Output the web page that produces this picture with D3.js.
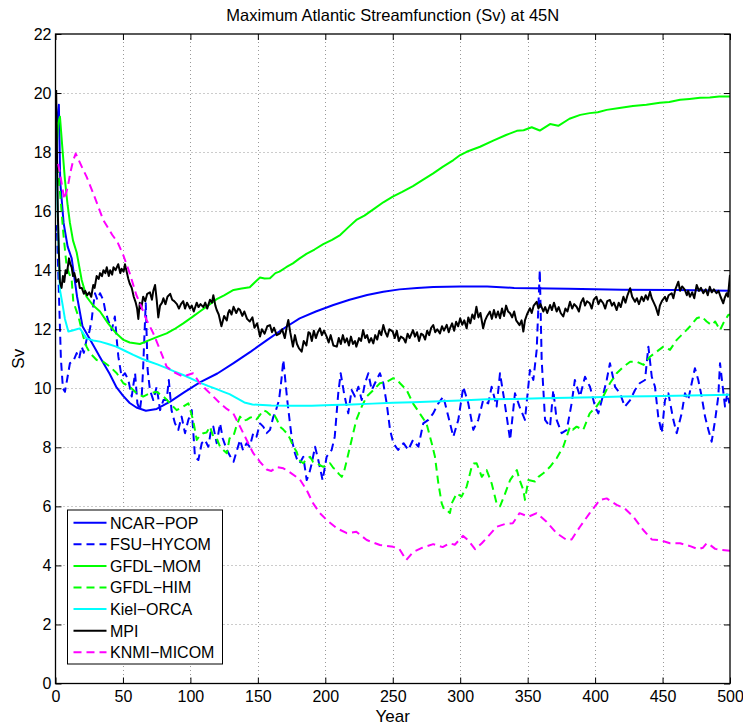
<!DOCTYPE html>
<html>
<head>
<meta charset="utf-8">
<script src="https://cdn.jsdelivr.net/npm/d3@7"></script>
<style>
  html, body { margin: 0; padding: 0; background: #fff; }
  svg { display: block; }
  text { font-family: "Liberation Sans", Arial, Helvetica, sans-serif; fill: #000; }
</style>
</head>
<body>
<svg id="chart" width="743" height="726"></svg>
<script>
// Maximum Atlantic overturning streamfunction at 45N, per ocean model, [year, Sv]
const ncarPop = [[1,19.0],[2.5,19.6],[3.5,17.0],[6,15.6],[9,14.8],[12,14.4],[16,13.1],[20,12.1],[25,11.7],[33,11.05],[40,10.5],[45,10.05],[50,9.75],[55,9.5],[60,9.35],[67,9.24],[75,9.3],[85,9.55],[95,9.85],[107,10.2],[120,10.5],[132,10.85],[145,11.25],[157,11.64],[170,12.05],[181,12.37],[193,12.6],[206,12.82],[218,13.0],[231,13.16],[243,13.27],[255,13.35],[268,13.4],[280,13.43],[300,13.45],[320,13.45],[340,13.4],[380,13.37],[420,13.34],[460,13.33],[500,13.3]];

const fsuHycom = [[0,15.3],[1,15.5],[2,14.0],[3,12.5],[4,11.0],[5.5,10.0],[7,9.88],[9,10.4],[10.7,10.85],[13,10.9],[15.7,11.19],[17.5,11.0],[19.4,11.41],[21,11.2],[23,11.64],[25,11.9],[26.8,12.31],[28,12.8],[29.3,13.22],[31,13.0],[33,13.22],[35.4,12.99],[37,12.6],[39,12.31],[41.7,11.97],[44,12.43],[45.5,11.6],[46.6,11.07],[49,10.39],[51.5,10.51],[54,10.28],[56.5,9.72],[59,10.51],[60.7,9.49],[62.6,9.26],[64,9.8],[65,10.73],[66.9,12.88],[68.3,10.62],[70,9.94],[72.5,9.6],[75,10.05],[77.5,9.26],[80,9.6],[82.4,9.6],[84,10.28],[86,9.26],[88.6,8.81],[91,8.59],[93.5,9.04],[96,8.48],[98.5,8.93],[101,9.26],[103.4,7.68],[105.9,7.57],[108.4,8.14],[110.8,8.25],[113.3,8.02],[115,8.5],[117,8.7],[119.5,8.14],[122,8.81],[124,8.3],[127,7.91],[129.5,7.7],[132,7.51],[134.5,7.9],[136.8,8.25],[139,7.9],[141.7,8.14],[144,8.02],[146.6,8.48],[149,8.36],[151.6,8.81],[154,8.7],[156.5,8.48],[159,8.59],[161.5,9.04],[162.7,9.15],[165.7,9.6],[167.5,10.3],[168.9,10.96],[170.5,10.2],[171.8,9.6],[173.8,8.81],[175.5,8.2],[177.5,7.8],[179,7.6],[181,7.46],[183.7,7.68],[186.2,6.89],[188,7.1],[190,7.46],[192.4,8.02],[194.8,7.57],[198,6.89],[201,7.68],[204.7,7.91],[207,8.36],[209.6,9.83],[211.4,10.51],[213.9,9.83],[217,9.15],[219.5,9.94],[222,9.72],[224.5,10.05],[227,9.6],[229.4,10.17],[231.9,10.51],[234.4,9.94],[236.8,10.17],[240.5,10.51],[243,10.17],[245.5,9.49],[248,8.59],[250.4,8.14],[254,7.91],[258,8.14],[261.5,7.91],[265,8.25],[269,8.02],[272.6,8.81],[276.4,8.93],[280,9.15],[283.8,9.49],[287.5,9.72],[291.2,9.04],[294.9,8.36],[298.6,8.93],[302.3,10.05],[306,9.49],[309.7,8.59],[313.4,8.93],[317,9.6],[320.8,9.49],[323.3,10.05],[327,9.38],[329.5,10.51],[333,9.5],[337,8.25],[340.6,9.83],[344,9.38],[348,8.93],[351.7,10.62],[354.2,10.28],[356.7,11.3],[359,14.0],[360.4,10.96],[362.9,8.93],[366.6,8.7],[369,9.94],[371.5,8.93],[375.2,8.48],[379,8.59],[382.6,9.49],[385,10.28],[388.8,9.72],[392.5,10.39],[396.2,10.05],[400,9.38],[402.4,9.15],[405,9.6],[408.6,10.28],[411,10.85],[414.8,10.05],[418.5,9.83],[422,9.38],[426,9.6],[429.6,9.94],[433,10.17],[437,10.28],[439.5,11.41],[442,10.39],[444.4,10.05],[446.8,9.04],[449.4,8.48],[451.8,9.6],[454.3,9.83],[458,8.93],[460.5,8.48],[464.2,9.15],[466.6,9.83],[469,9.6],[471.6,10.17],[474,10.68],[476.5,10.28],[479,9.72],[481.5,9.04],[484,8.59],[486.4,8.19],[489,8.93],[491.3,9.72],[492.6,10.85],[494.6,10.05],[496.3,9.38],[498,9.83],[499.5,9.49]];

const gfdlMom = [[0,17.0],[1,18.3],[2,19.0],[3.3,19.2],[5,18.2],[7,17.06],[9,16.2],[10.7,15.6],[13,15.0],[15.7,14.6],[19.4,13.67],[23,13.1],[28,12.8],[33,12.6],[39,12.2],[45,11.86],[50,11.65],[55,11.55],[62.6,11.5],[70,11.64],[76,11.75],[82.4,11.86],[88,12.0],[94.7,12.2],[101,12.4],[107,12.6],[113,12.8],[119.5,13.02],[125,13.15],[132,13.33],[138,13.38],[144,13.42],[148,13.6],[151.6,13.75],[155,13.72],[159,13.73],[163,13.9],[166,13.95],[171,14.1],[176,14.23],[181,14.4],[186,14.55],[192,14.7],[198.5,14.88],[205,15.03],[211,15.19],[217,15.45],[223,15.7],[229,15.85],[235.6,16.06],[243,16.3],[250,16.49],[257,16.65],[265,16.85],[272,17.05],[280,17.28],[287,17.5],[295,17.73],[300,17.9],[304.8,18.01],[314.7,18.18],[324.5,18.39],[334,18.58],[342,18.72],[347,18.74],[353,18.84],[359,18.73],[366.6,18.95],[372.7,18.89],[381,19.13],[389,19.26],[396,19.32],[402,19.35],[408.6,19.43],[418,19.49],[428,19.56],[438,19.6],[448,19.67],[455,19.7],[463,19.77],[470,19.8],[477.8,19.84],[485,19.85],[492,19.88],[500,19.88]];

const gfdlHim = [[0,17.2],[1.5,17.6],[3,16.8],[4.5,16.0],[5.8,15.25],[7,14.7],[8.3,14.12],[10,13.9],[12,13.67],[13.2,12.93],[17,12.43],[20.6,11.75],[23,11.41],[25.6,11.19],[30.5,10.96],[35.4,10.9],[40.4,10.73],[45.4,10.51],[50.3,10.17],[55.2,10.05],[60.2,9.83],[65,9.72],[70,9.83],[75,9.88],[80,9.72],[85,9.49],[89.8,9.26],[94.7,9.38],[98.5,9.49],[102,8.93],[104.7,8.25],[107,8.4],[109.6,8.48],[112,8.5],[114.5,8.7],[117,8.36],[119.5,8.3],[122,8.02],[124.4,7.91],[127,7.8],[129,8.3],[131.8,8.36],[134,8.7],[136.8,9.04],[139,8.9],[141.7,8.93],[144,9.0],[146.6,9.04],[149,8.95],[151.6,9.1],[154,9.25],[156.5,9.21],[159,9.1],[161.5,9.15],[164,8.95],[166.4,8.7],[168.9,8.6],[171.4,8.48],[173.8,8.3],[176.3,8.02],[178.8,7.85],[180.5,7.57],[183.7,7.46],[186,7.6],[188.7,7.68],[191,7.5],[193.6,7.46],[196,7.4],[198.5,7.34],[201,7.4],[203.5,7.46],[206,7.3],[208.4,7.23],[210,7.1],[212.2,7.0],[214,7.2],[216,7.57],[219.5,8.25],[223,8.93],[227,9.38],[230.7,9.72],[235.6,9.94],[240.5,10.17],[245.5,10.22],[250.4,10.34],[253,10.3],[255.4,10.17],[260.3,9.94],[265,9.49],[270,9.15],[275,8.81],[278.9,8.14],[281.3,7.68],[283.8,6.78],[286.3,6.1],[288,5.9],[290,5.88],[292.4,5.77],[293.7,6.1],[297.4,6.44],[301,6.33],[304.8,6.67],[308.5,7.34],[310,7.45],[312.2,7.46],[316,7.0],[319.6,7.23],[323.3,6.78],[327,6.1],[329.5,6.0],[333,6.4],[337,6.89],[342,7.23],[344,6.9],[346.8,6.55],[348,6.22],[350.5,6.89],[355.4,6.84],[358,7.0],[361.6,7.12],[366.6,7.34],[371.5,7.63],[376.4,8.02],[381.4,8.7],[383.5,8.6],[386.3,8.7],[391.2,8.59],[396,9.15],[401,9.38],[406,9.72],[411,10.17],[416,10.51],[421,10.73],[426,10.9],[431,10.9],[436,10.79],[440.7,11.07],[445.6,11.24],[450.6,11.41],[455.5,11.3],[460.5,11.64],[465.4,11.86],[470.3,12.09],[475.3,12.37],[479,12.43],[482.7,12.26],[486.4,12.14],[489,12.26],[492.6,11.97],[495,12.2],[498.7,12.48],[500,12.5]];

const kielOrca = [[0,18.6],[1,17.2],[2,15.3],[3.3,13.33],[5,12.9],[7,12.35],[9.5,11.92],[12,11.95],[15.7,12.0],[18,12.03],[20,11.9],[23,11.69],[28,11.62],[33,11.58],[39,11.5],[45,11.41],[51,11.28],[57.7,11.13],[64,11.0],[70,10.9],[76,10.8],[82.4,10.68],[88,10.57],[94.7,10.45],[101,10.32],[107,10.19],[113,10.08],[119.5,9.97],[125,9.87],[129,9.8],[135,9.65],[140,9.52],[146,9.45],[160,9.42],[175,9.41],[190,9.41],[205,9.43],[220,9.45],[235,9.48],[250,9.51],[265,9.53],[280,9.55],[300,9.59],[320,9.63],[340,9.64],[360,9.66],[380,9.68],[400,9.7],[420,9.72],[440,9.73],[460,9.75],[480,9.76],[500,9.78]];

const mpi = [[0.5,20.1],[1.2,17.5],[1.8,15.8],[2.5,14.6],[3.3,13.6],[4.5,13.4],[5.5,13.8],[6.5,13.6],[7.5,14.0],[8.5,13.9],[10,14.4],[11,14.2],[12,14.1],[13,13.8],[14,13.9],[15.5,13.6],[17,13.7],[18,13.4],[19.5,13.4],[21,13.2],[22,13.3],[23.5,13.15],[25,13.25],[26.5,13.1],[28,13.5],[29,13.4],[30.5,13.8],[32,13.7],[33,13.9],[34.5,13.8],[35.5,14.0],[37,13.9],[38,14.1],[39.5,13.8],[40.5,14.0],[42,13.85],[43,14.1],[44.5,14.0],[46.5,14.2],[48,13.9],[49,14.05],[50.5,13.95],[51.5,14.2],[53,13.9],[54,13.7],[55,13.55],[56.5,13.4],[58,13.1],[59.5,12.9],[60.5,12.7],[61.4,12.35],[62.5,12.9],[63.5,12.7],[65,13.1],[66.5,12.95],[68,13.2],[70,13.25],[71.5,13.0],[72.5,13.3],[73.8,13.5],[75,13.0],[76.2,12.4],[77.5,12.8],[79,12.9],[80,13.05],[81.5,12.85],[83,13.1],[85,13.2],[86.5,13.0],[88,12.95],[90,12.85],[91.5,12.7],[93,12.85],[94.7,12.95],[96,12.7],[97.5,12.9],[99.7,12.7],[101,12.8],[102.5,12.6],[104.7,12.9],[106,12.75],[107.5,12.85],[109.6,12.75],[111,12.9],[112.5,12.7],[114.5,13.0],[116,12.9],[117,13.15],[118.5,12.8],[119.5,12.65],[121,12.5],[123,12.1],[125,12.45],[127,12.3],[128,12.55],[129,12.65],[130.5,12.5],[132,12.76],[134,12.55],[135.5,12.7],[136.8,12.65],[138.5,12.45],[140,12.6],[142,12.35],[144,12.26],[146,12.4],[147.5,12.05],[149.5,12.2],[151.6,11.75],[153,12.0],[155,11.85],[157,12.1],[159,12.14],[160.5,11.9],[162,12.05],[164,11.8],[166.4,11.86],[168,12.0],[170,11.7],[171.5,12.1],[172.6,12.31],[174,11.9],[176,11.41],[177.5,11.8],[179,11.5],[180.5,11.35],[182.5,11.24],[184,11.6],[186,11.45],[187.5,11.9],[188.7,11.86],[190,11.6],[191.5,11.95],[193,11.7],[194.5,11.9],[196,12.03],[197.5,11.8],[199,11.95],[201,11.75],[202.5,11.55],[204,11.8],[206,11.45],[208.5,11.41],[210,11.7],[211.5,11.5],[213,11.8],[214.5,11.55],[216,11.69],[217.5,11.45],[219,11.75],[220.5,11.5],[222,11.6],[223,11.41],[225,11.7],[226.5,11.6],[228,11.97],[229.5,11.7],[231,11.8],[232.5,11.55],[234,11.7],[235.6,11.52],[237,11.8],[238.5,11.65],[240,11.95],[241.5,11.8],[243,12.14],[244.5,11.9],[246,11.75],[247.5,12.0],[250,11.92],[251.5,11.7],[253,11.95],[254.5,11.6],[256,11.75],[258,11.69],[259.5,11.55],[261,11.85],[262.5,11.7],[265,11.97],[266.5,11.75],[268,11.9],[269.5,11.6],[271,11.85],[272.6,11.8],[274,11.65],[275.5,11.95],[277,11.8],[278.5,12.05],[280,12.14],[281.5,11.9],[283,12.0],[285,11.86],[286.5,12.1],[288,11.95],[290,12.15],[291.5,11.9],[292.4,12.03],[294,12.2],[295.5,11.95],[297,12.25],[298.5,12.1],[300,12.37],[301.5,12.15],[303,12.3],[304.8,12.03],[306,12.4],[307.5,12.2],[309,12.5],[310.5,12.35],[312,12.76],[313.5,12.4],[315,12.55],[317,12.03],[318.5,12.3],[320,12.45],[322,12.6],[323.5,12.35],[325,12.65],[326.5,12.4],[328,12.6],[329.5,12.37],[331,12.7],[332.5,12.45],[334,12.8],[335.5,12.6],[337,12.54],[338.5,12.4],[340,12.6],[341.5,12.3],[344,12.14],[345.5,12.3],[346.8,11.92],[348,12.3],[349.5,12.5],[351.7,12.71],[353,12.55],[354.5,12.8],[356.7,12.93],[358,12.7],[359.5,12.85],[361.6,12.6],[363,12.75],[364.5,12.55],[366.6,12.82],[368,12.65],[369.5,12.9],[371.5,12.6],[373,12.75],[374.5,12.55],[376.4,12.43],[378,12.7],[379.5,12.6],[381.4,12.93],[383,12.7],[384.5,12.85],[386.3,12.76],[388,12.6],[389.5,12.9],[391.2,13.05],[392.5,12.8],[394,12.95],[396,12.88],[397.5,12.7],[399,13.0],[401,13.1],[402.5,12.85],[404,13.0],[406,12.88],[407.5,12.7],[409,12.95],[411,12.99],[412.5,12.8],[414,12.9],[416,12.65],[417.5,12.9],[419,12.75],[421,13.1],[422.5,12.9],[424,13.15],[426,13.39],[427.5,13.1],[429.6,12.93],[431,13.05],[432.5,12.85],[434.5,13.1],[436,12.95],[437.5,13.15],[439,13.0],[440.7,13.27],[442,13.05],[443.5,12.9],[445,12.75],[446.8,12.48],[448,12.8],[449.5,12.95],[451.8,13.1],[453,12.95],[454.5,13.15],[456.8,13.22],[458,13.05],[459.5,13.35],[461.7,13.61],[463,13.3],[464.5,13.45],[466.6,13.33],[468,13.15],[469,13.3],[470.3,13.1],[472,13.25],[473.5,13.05],[475.3,13.5],[477,13.3],[478.5,13.4],[480.2,13.22],[482,13.35],[483.5,13.15],[485,13.44],[486.5,13.25],[488,13.35],[490,13.22],[491.5,13.3],[493,13.1],[495,12.88],[496,13.05],[497.5,13.22],[498.5,13.1],[499.3,13.5],[500,13.84]];

const knmiMicom = [[2,17.6],[4,17.1],[6.5,16.4],[9,16.8],[11,17.3],[13,17.7],[15,17.95],[17,17.75],[20,17.45],[23,17.17],[28,16.6],[35.4,15.7],[42,15.2],[46,14.95],[50.3,14.5],[55,13.9],[60,13.15],[62.6,12.88],[67.6,12.31],[72.5,11.86],[77.5,11.3],[82.4,10.73],[87.3,10.56],[94.7,10.39],[98,10.45],[102,10.51],[107,10.17],[112,9.94],[117,9.72],[122,9.49],[127,9.3],[131.8,9.15],[136.8,8.7],[141.7,8.25],[146.6,7.8],[151.6,7.51],[156.5,7.25],[160,7.2],[164,7.33],[168.9,7.29],[173.8,7.15],[181,6.92],[186.2,6.55],[191,6.1],[196,5.77],[201,5.54],[208.5,5.26],[216,5.09],[223,5.14],[230.7,4.86],[240.5,4.69],[250.4,4.63],[255,4.55],[260,4.18],[265,4.45],[272,4.6],[280,4.72],[287,4.62],[292,4.75],[296,4.7],[302,5.0],[306,4.85],[311,4.55],[316,4.75],[322,5.05],[327,5.31],[333,5.4],[339,5.43],[344,5.77],[350.5,5.65],[356.7,5.77],[364,5.48],[371.5,5.09],[379,4.86],[382.6,4.88],[388.8,5.31],[396,5.77],[403.6,6.22],[408.6,6.27],[416,6.05],[422,5.93],[428.3,5.65],[435.7,5.2],[442,4.88],[448,4.86],[455.5,4.75],[463,4.75],[470,4.66],[476.5,4.55],[480,4.6],[482.7,4.75],[485,4.7],[489,4.56],[494,4.52],[500,4.5]];

const modelNames = ["NCAR\u2212POP", "FSU\u2212HYCOM", "GFDL\u2212MOM", "GFDL\u2212HIM", "Kiel\u2212ORCA", "MPI", "KNMI\u2212MICOM"];
const modelData = [ncarPop, fsuHycom, gfdlMom, gfdlHim, kielOrca, mpi, knmiMicom];

const xTicks = [0, 50, 100, 150, 200, 250, 300, 350, 400, 450, 500];
const yTicks = [0, 2, 4, 6, 8, 10, 12, 14, 16, 18, 20, 22];

const titleText = "Maximum Atlantic Streamfunction (Sv) at 45N";
const xLabel = "Year";
const yLabel = "Sv";

// line styles, in plotting order
const styles = [
  { color: "#0000ff", dash: null },
  { color: "#0000ff", dash: "8,5" },
  { color: "#00ff00", dash: null },
  { color: "#00ff00", dash: "8,5" },
  { color: "#00ffff", dash: null },
  { color: "#000000", dash: null },
  { color: "#ff00ff", dash: "8,5" }
];

const svg = d3.select("#chart");
const plotL = 55.5, plotR = 730, plotT = 34, plotB = 683.5;

const x = d3.scaleLinear().domain([0, 500]).range([plotL, plotR]);
const y = d3.scaleLinear().domain([0, 22]).range([plotB, plotT]);

// dotted grid
const grid = svg.append("g").attr("stroke", "#999").attr("stroke-width", 1).attr("stroke-dasharray", "1,3");
grid.selectAll("line.gx").data(xTicks.slice(1, -1)).join("line")
  .attr("x1", d => Math.round(x(d)) + 0.5).attr("x2", d => Math.round(x(d)) + 0.5)
  .attr("y1", plotT).attr("y2", plotB);
grid.selectAll("line.gy").data(yTicks.slice(1, -1)).join("line")
  .attr("y1", d => Math.round(y(d)) + 0.5).attr("y2", d => Math.round(y(d)) + 0.5)
  .attr("x1", plotL).attr("x2", plotR);

// data lines
svg.append("clipPath").attr("id", "plotClip").append("rect")
  .attr("x", plotL).attr("y", plotT).attr("width", plotR - plotL).attr("height", plotB - plotT);

const line = d3.line().x(d => x(d[0])).y(d => y(d[1]));
const plot = svg.append("g").attr("clip-path", "url(#plotClip)");
modelData.forEach((data, i) => {
  plot.append("path")
    .datum(data)
    .attr("d", line)
    .attr("fill", "none")
    .attr("stroke", styles[i].color)
    .attr("stroke-width", 2)
    .attr("stroke-linejoin", "round")
    .attr("stroke-dasharray", styles[i].dash);
});

// axes with inward ticks on all four sides
const fontSize = "16px";
const xAxis = d3.axisBottom(x).tickValues(xTicks).tickSizeInner(-6).tickSizeOuter(0).tickPadding(7);
const yAxis = d3.axisLeft(y).tickValues(yTicks).tickSizeInner(-6).tickSizeOuter(0).tickPadding(4);

const gx = svg.append("g").attr("transform", `translate(0,${plotB})`).call(xAxis);
const gy = svg.append("g").attr("transform", `translate(${plotL},0)`).call(yAxis);
const gxTop = svg.append("g").attr("transform", `translate(0,${plotT})`)
  .call(d3.axisTop(x).tickValues(xTicks).tickSizeInner(-6).tickSizeOuter(0).tickFormat(""));
const gyRight = svg.append("g").attr("transform", `translate(${plotR},0)`)
  .call(d3.axisRight(y).tickValues(yTicks).tickSizeInner(-6).tickSizeOuter(0).tickFormat(""));

[gx, gy, gxTop, gyRight].forEach(g => {
  g.select(".domain").remove();
  g.selectAll(".tick line").attr("stroke", "#000").attr("stroke-width", 1);
  g.selectAll("text").attr("font-size", fontSize).attr("font-family", "Liberation Sans, Arial, sans-serif").attr("fill", "#000");
});

// axes box
svg.append("rect")
  .attr("x", plotL).attr("y", plotT).attr("width", plotR - plotL).attr("height", plotB - plotT)
  .attr("fill", "none").attr("stroke", "#000").attr("stroke-width", 1.3);

// title and labels
svg.append("text").attr("x", (plotL + plotR) / 2).attr("y", 21)
  .attr("text-anchor", "middle").attr("font-size", "16.5px").text(titleText);
svg.append("text").attr("x", (plotL + plotR) / 2).attr("y", 722)
  .attr("text-anchor", "middle").attr("font-size", "17px").text(xLabel);
svg.append("text").attr("transform", `translate(24,${(plotT + plotB) / 2}) rotate(-90)`)
  .attr("text-anchor", "middle").attr("font-size", "17px").text(yLabel);

// legend
const legend = svg.append("g");
const lgX = 67.5, lgY = 510, lgW = 155, lgH = 154, rowH = 21.6;
legend.append("rect").attr("x", lgX).attr("y", lgY).attr("width", lgW).attr("height", lgH)
  .attr("fill", "#fff").attr("stroke", "#000").attr("stroke-width", 1);
modelNames.forEach((name, i) => {
  const cy = lgY + 12.7 + i * rowH;
  legend.append("line").attr("x1", lgX + 6).attr("x2", lgX + 39).attr("y1", cy).attr("y2", cy)
    .attr("stroke", styles[i].color).attr("stroke-width", 2).attr("stroke-dasharray", styles[i].dash);
  legend.append("text").attr("x", lgX + 42.5).attr("y", cy + 5.8).attr("font-size", "16px").text(name);
});
</script>
</body>
</html>
